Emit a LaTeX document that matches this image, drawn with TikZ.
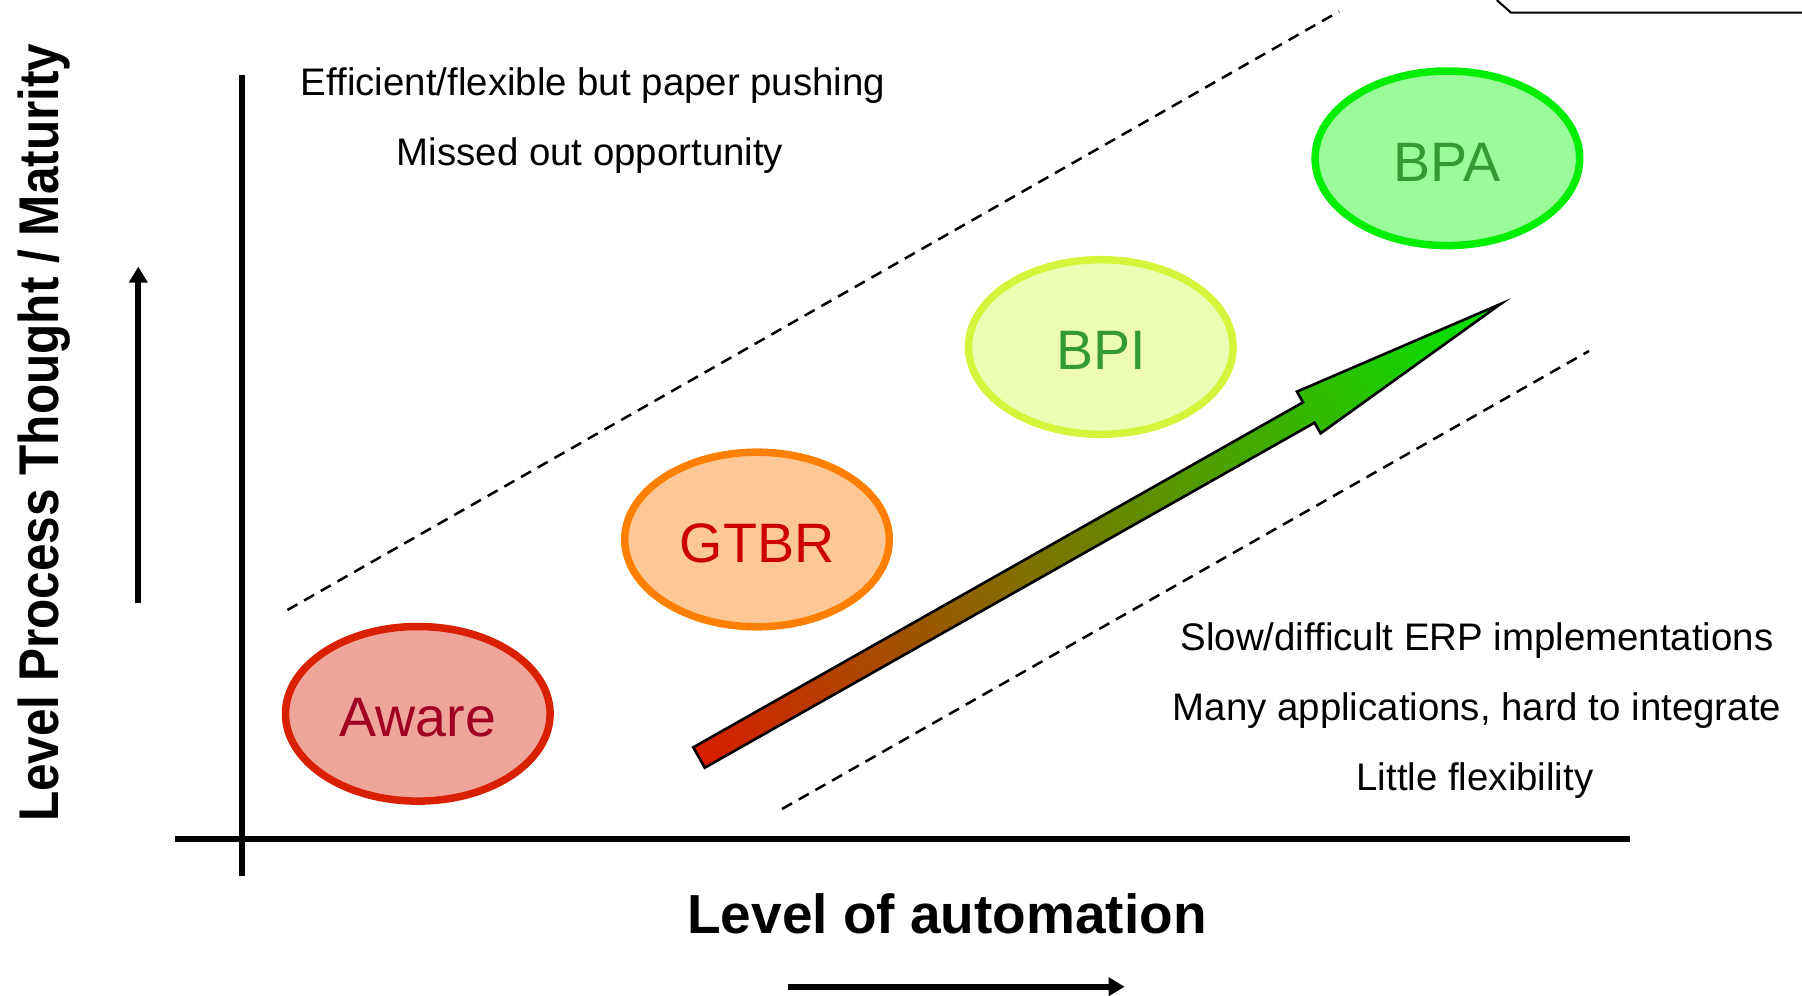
\documentclass[tikz,border=0pt]{standalone}
\usepackage{fontspec}
\usepackage{graphicx}
\setmainfont{Liberation Sans}
\usetikzlibrary{arrows.meta,shapes.geometric}
\definecolor{awfill}{RGB}{240,165,155}
\definecolor{awline}{RGB}{217,32,0}
\definecolor{awtext}{RGB}{160,0,32}
\definecolor{gtfill}{RGB}{253,200,150}
\definecolor{gtline}{RGB}{255,128,0}
\definecolor{gttext}{RGB}{204,0,0}
\definecolor{bifill}{RGB}{236,252,178}
\definecolor{biline}{RGB}{212,245,60}
\definecolor{bptext}{RGB}{51,153,51}
\definecolor{bafill}{RGB}{153,251,153}
\definecolor{baline}{RGB}{0,238,0}
\definecolor{arred}{RGB}{216,30,0}
\definecolor{armid}{RGB}{140,118,0}
\definecolor{argreen}{RGB}{0,232,0}
\begin{document}
\begin{tikzpicture}[x=0.5pt,y=-0.5pt,
  stage/.style={ellipse, minimum width=132.3pt, minimum height=87.3pt, inner sep=0pt,
    line width=3.75pt, font=\fontsize{27.8}{31}\selectfont, text height=22.9pt, text depth=0pt},
  note/.style={anchor=base, inner sep=0pt, font=\fontsize{19.2}{23}\selectfont},
  axislbl/.style={anchor=base, inner sep=0pt, font=\bfseries\fontsize{27.5}{32}\selectfont},
  axisline/.style={line width=2.8pt},
  dirarrow/.style={line width=3pt, -{Triangle[width=9pt,length=8pt]}},
  guide/.style={line width=1.25pt, dash pattern=on 5.75pt off 3.85pt},
  frameline/.style={line width=1pt}]
\useasboundingbox (0,0) rectangle (1802,995);

% corner of a shape cut off at the top right
\coordinate (f1) at (1496.7,0);
\coordinate (f2) at (1511,12.7);
\coordinate (f3) at (1802,12.7);
\draw[frameline] (f1) -- (f2) -- (f3);

% axes
\coordinate (yt) at (242,75);
\coordinate (yb) at (242,876);
\coordinate (xl) at (175,839);
\coordinate (xr) at (1630,839);
\draw[axisline] (yt) -- (yb);
\draw[axisline] (xl) -- (xr);

% direction arrows
\coordinate (ua1) at (138.3,603);
\coordinate (ua2) at (138.3,266.6);
\draw[dirarrow] (ua1) -- (ua2);
\coordinate (ra1) at (787.8,986.7);
\coordinate (ra2) at (1124.6,986.7);
\draw[dirarrow] (ra1) -- (ra2);

% axis labels
\node[axislbl] (xlab) at (947,933) {Level of automation};
\node[axislbl, rotate=90, font=\bfseries\fontsize{28}{32}\selectfont] (ylab) at (58.3,432.7)
  {\scalebox{0.884}[1]{Level Process Thought / Maturity}};

% dashed band
\coordinate (d1) at (287.4,610);
\coordinate (d2) at (1339,11.5);
\coordinate (d3) at (782,809);
\coordinate (d4) at (1589,351);
\draw[guide] (d1) -- (d2);
\draw[guide] (d3) -- (d4);

% notes
\node[note] (t1) at (593,95.4) {Efficient/flexible but paper pushing};
\node[note] (t2) at (590,165.5) {Missed out opportunity};
\node[note] (r1) at (1477,650) {Slow/difficult ERP implementations};
\node[note] (r2) at (1477,720.5) {Many applications, hard to integrate};
\node[note] (r3) at (1475,790.6) {Little flexibility};

% gradient arrow
\begin{scope}[transform canvas={shift={(699,757.5)}, rotate=29.5}]
  \shade[left color=arred, middle color=armid, right color=argreen, draw=black, line width=1.3pt, line join=miter]
    (0,-11.7) -- (700.6,-11.7) -- (700.6,-24) -- (921,0) -- (700.6,24) -- (700.6,11.7) -- (0,11.7) -- cycle;
\end{scope}

% stages
\node[stage, draw=awline, fill=awfill, text=awtext] (aware) at (417.8,713.8) {Aware};
\node[stage, draw=gtline, fill=gtfill, text=gttext] (gtbr) at (757,539.5) {GTBR};
\node[stage, draw=biline, fill=bifill, text=bptext] (bpi) at (1100.8,347) {BPI};
\node[stage, draw=baline, fill=bafill, text=bptext] (bpa) at (1447.4,158.3) {BPA};
\end{tikzpicture}
\end{document}
